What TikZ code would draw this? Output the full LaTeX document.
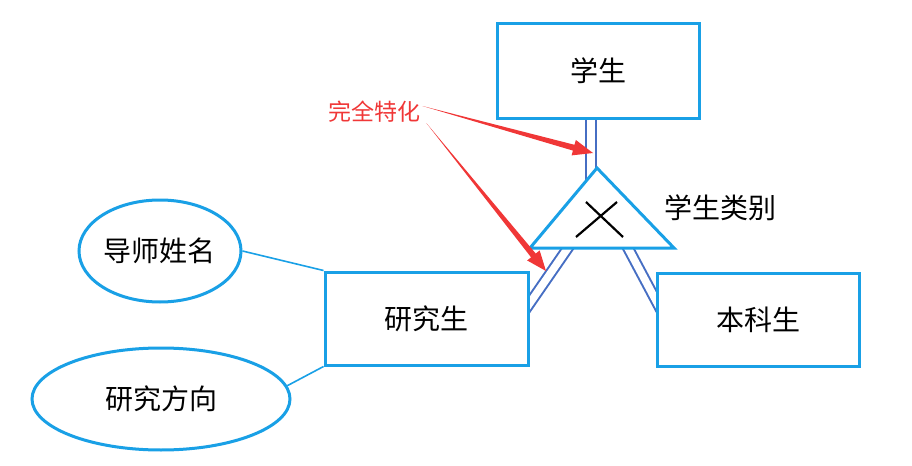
\documentclass[tikz,border=0pt]{standalone}
\usepackage{fontspec}
\newfontfamily\cjk{Noto Sans CJK SC}
\usetikzlibrary{shapes.geometric,calc,backgrounds}
\definecolor{erblue}{RGB}{25,160,230}
\definecolor{linkblue}{RGB}{70,110,195}
\definecolor{alarm}{RGB}{240,55,55}
\tikzset{
  entity/.style={draw=erblue, line width=1.5pt, fill=white, inner sep=0pt, font=\cjk\fontsize{14pt}{16pt}\selectfont},
  attr/.style={entity, ellipse},
  total/.style={draw=linkblue, double=white, double distance=3.8pt, line width=1pt},
  attrline/.style={draw=erblue, line width=0.8pt},
}
\begin{document}
\begin{tikzpicture}[x=0.5pt,y=-0.5pt]
  \useasboundingbox (0,0) rectangle (912,466);
  \node[entity, minimum width=101pt, minimum height=47.5pt] (stu) at (598,70.5) {学生};
  \node[entity, minimum width=101.5pt, minimum height=46.5pt] (grad) at (426.5,318.5) {研究生};
  \node[entity, minimum width=101pt, minimum height=46.5pt] (ug) at (758,319.5) {本科生};
  \node[attr, minimum width=81pt, minimum height=51pt] (tutor) at (160,251) {导师姓名};
  \node[attr, minimum width=129pt, minimum height=51pt] (field) at (161,399) {研究方向};
  \coordinate (top) at (597,168);
  \coordinate (bl) at (530,248);
  \coordinate (br) at (674,248);
  \coordinate (catc) at (600,220);
  \coordinate (catL) at (590,216);
  \coordinate (catR) at (612,218);
  \coordinate (gin) at (512,329);
  \coordinate (uin) at (669,325);
  \begin{scope}[on background layer]
    \draw[total] ([xshift=-3.5pt]stu.south) -- ([xshift=-3.5pt]stu.south |- catc);
    \draw[total] (catL) -- (gin);
    \draw[total] (catR) -- (uin);
    \draw[attrline] (tutor.east) -- (grad.north west);
    \draw[attrline] (field.6) -- (grad.south west);
  \end{scope}
  \draw[erblue, line width=1.5pt, fill=white, line join=miter] (top) -- (bl) -- (br) -- cycle;
  \draw[line width=1.1pt] (576,237) -- (617,202) (586,202) -- (623,237);
  \node[font=\cjk\fontsize{14pt}{16pt}\selectfont] (catname) at (720,208) {学生类别};
  \node[text=alarm, font=\cjk\fontsize{11.5pt}{13pt}\selectfont, inner sep=0pt] (lbl) at (374,112) {完全特化};
  \coordinate (tip1) at (593,153);
  \coordinate (tip2) at (546,271);
  \coordinate (from1) at ([xshift=1pt,yshift=3pt]lbl.east);
  \coordinate (from2) at ([xshift=3pt]lbl.south east);
  \foreach \s/\t in {from1/tip1, from2/tip2} {
    \coordinate (neck) at ($(\t)!10pt!(\s)$);
    \fill[alarm] (\s) -- ($(neck)!1.5pt!90:(\t)$) -- ($(neck)!4pt!90:(\t)$) -- (\t)
      -- ($(neck)!4pt!-90:(\t)$) -- ($(neck)!1.5pt!-90:(\t)$) -- cycle;
  }
\end{tikzpicture}
\end{document}
